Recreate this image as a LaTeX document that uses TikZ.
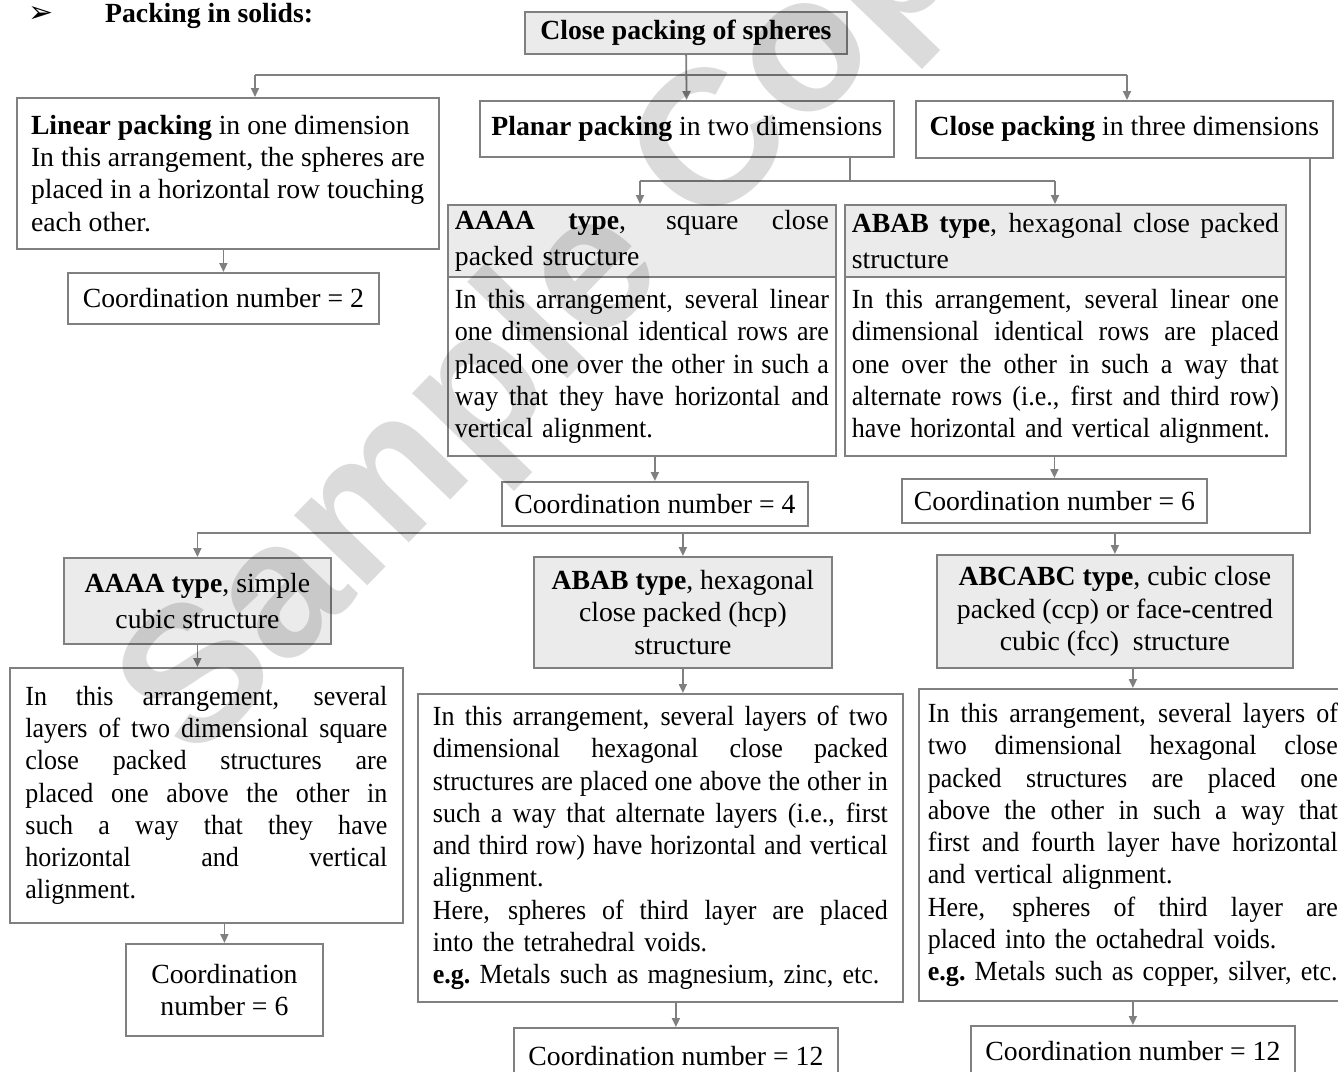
\documentclass[tikz,border=0pt]{standalone}
\usepackage{fontspec}
\setmainfont{Liberation Serif}
\newfontfamily\bodyfont{Liberation Serif}[FakeStretch=0.94]
\newfontfamily\symbolfont{DejaVu Sans}
\newfontfamily\markfont{Liberation Sans}
\usetikzlibrary{arrows.meta}

\definecolor{linegray}{RGB}{128,128,128}
\definecolor{headgray}{RGB}{235,235,235}

% one justified line of a paragraph
\newcommand{\bodyspace}{\spaceskip=0.235em plus 0.3em minus 0.13em\relax}
\newcommand{\jl}[1]{\makebox[\hsize][s]{\bodyspace#1}\\}

\tikzset{
  box/.style={draw=linegray, line width=1.8pt, inner sep=0pt, anchor=north west,
    font=\fontsize{27.7}{32.3}\selectfont},
  headbox/.style={box, fill=headgray},
  bodybox/.style={box, align=left, font=\bodyfont\fontsize{27.7}{32.3}\selectfont},
  link/.style={draw=linegray, line width=1.8pt},
  linkarrow/.style={link, -{Triangle[length=9pt,width=8pt]}}
}

\begin{document}
\begin{tikzpicture}[x=1pt,y=-1pt]
\path[use as bounding box, clip] (0,0) rectangle (1338,1071);

% Title
\node[font=\symbolfont\fontsize{30}{30}\selectfont, inner sep=0pt] (bullet) at (41,15) {➢};
\node[anchor=base west, inner sep=0pt, font=\bfseries\fontsize{27.7}{32}\selectfont] (title) at (105,22) {Packing in solids:};

% Top level
\node[headbox, minimum width=322pt, minimum height=42pt, font=\bfseries\fontsize{27.7}{32}\selectfont] (spheres) at (524,11) {Close packing of spheres};

% First row
\node[box, minimum width=422pt, minimum height=151pt, align=left] (linear) at (16,97)
  {\textbf{Linear packing} in one dimension\\
   In this arrangement, the spheres are\\
   placed in a horizontal row touching\\
   each other.};
\node[box, minimum width=414pt, minimum height=56pt] (planar) at (479,100)
  {\textbf{Planar packing} in two dimensions};
\node[box, minimum width=417pt, minimum height=57pt] (close) at (915,100)
  {\textbf{Close packing} in three dimensions};
\node[box, minimum width=311pt, minimum height=51pt] (cnlinear) at (67,272) {Coordination number = 2};

% Planar packing
\node[headbox, minimum width=388pt, minimum height=72pt, text width=374pt, align=left,
  font=\fontsize{27.7}{36}\selectfont] (sqhead) at (447,204)
  {\jl{\textbf{AAAA type}, square close}packed structure};
\node[bodybox, minimum width=388pt, minimum height=179pt, text width=374pt] (sqbody) at (447,276)
  {\jl{In this arrangement, several linear}
   \jl{one dimensional identical rows are}
   \jl{placed one over the other in such a}
   \jl{way that they have horizontal and}
   vertical alignment.};
\node[box, minimum width=306pt, minimum height=44pt] (cnsquare) at (501,481) {Coordination number = 4};

\node[headbox, minimum width=441pt, minimum height=72pt, text width=427pt, align=left,
  font=\fontsize{27.7}{36}\selectfont] (hxhead) at (844,204)
  {\jl{\textbf{ABAB type}, hexagonal close packed}structure};
\node[bodybox, minimum width=441pt, minimum height=179pt, text width=427pt] (hxbody) at (844,276)
  {\jl{In this arrangement, several linear one}
   \jl{dimensional identical rows are placed}
   \jl{one over the other in such a way that}
   \jl{alternate rows (i.e., first and third row)}
   have horizontal and vertical alignment.};
\node[box, minimum width=305pt, minimum height=44pt] (cnhex) at (901,478) {Coordination number = 6};

% Close packing in three dimensions
\node[headbox, minimum width=267pt, minimum height=86pt, align=center,
  font=\fontsize{27.7}{36}\selectfont] (schead) at (63,557)
  {\textbf{AAAA type}, simple\\cubic structure};
\node[bodybox, minimum width=393pt, minimum height=255pt, text width=362pt] (scbody) at (9,667)
  {\jl{In this arrangement, several}
   \jl{layers of two dimensional square}
   \jl{close packed structures are}
   \jl{placed one above the other in}
   \jl{such a way that they have}
   \jl{horizontal and vertical}
   alignment.};
\node[box, minimum width=197pt, minimum height=92pt, align=center] (cnsc) at (125,943)
  {Coordination\\number = 6};

\node[headbox, minimum width=298pt, minimum height=111pt, align=center] (hcphead) at (533,556)
  {\textbf{ABAB type}, hexagonal\\close packed (hcp)\\structure};
\node[bodybox, minimum width=485pt, minimum height=308pt, text width=455pt] (hcpbody) at (417,693)
  {\jl{In this arrangement, several layers of two}
   \jl{dimensional hexagonal close packed}
   \jl{structures are placed one above the other in}
   \jl{such a way that alternate layers (i.e., first}
   \jl{and third row) have horizontal and vertical}
   alignment.\\
   \jl{Here, spheres of third layer are placed}
   into the tetrahedral voids.\\
   \textbf{e.g.}\ Metals such as magnesium, zinc, etc.};
\node[box, minimum width=324pt, minimum height=56pt] (cnhcp) at (513,1027) {Coordination number = 12};

\node[headbox, minimum width=356pt, minimum height=113pt, align=center] (ccphead) at (936,554)
  {\textbf{ABCABC type}, cubic close\\packed (ccp) or face-centred\\cubic (fcc)\ \ structure};
\node[bodybox, minimum width=428pt, minimum height=312pt, text width=410pt] (ccpbody) at (918,688)
  {\jl{In this arrangement, several layers of}
   \jl{two dimensional hexagonal close}
   \jl{packed structures are placed one}
   \jl{above the other in such a way that}
   \jl{first and fourth layer have horizontal}
   and vertical alignment.\\
   \jl{Here, spheres of third layer are}
   placed into the octahedral voids.\\
   \textbf{e.g.}\ Metals such as copper, silver, etc.};
\node[box, minimum width=324pt, minimum height=50pt] (cnccp) at (970,1025) {Coordination number = 12};

% Connectors, first level
\coordinate (splitl) at (255,75);
\coordinate (splitr) at (1127,75);
\draw[linkarrow] (spheres) -- (planar);
\draw[link] (splitl) -- (splitr);
\draw[linkarrow] (splitl) -- (splitl |- linear.north);
\draw[linkarrow] (splitr) -- (splitr |- close.north);
\draw[linkarrow] (cnlinear.north |- linear.south) -- (cnlinear.north);

% Connectors, planar packing
\coordinate (bend) at (850,181);
\coordinate (splitsq) at (640,181);
\coordinate (splithx) at (1055,181);
\draw[link] (bend |- planar.south) -- (bend);
\draw[link] (splitsq) -- (splithx);
\draw[linkarrow] (splitsq) -- (splitsq |- sqhead.north);
\draw[linkarrow] (splithx) -- (splithx |- hxhead.north);
\draw[linkarrow] (cnsquare.north |- sqbody.south) -- (cnsquare.north);
\draw[linkarrow] (cnhex.north |- hxbody.south) -- (cnhex.north);

% Connectors, three dimensions
\coordinate (corner) at (1310,533);
\draw[link] (corner |- close.south) -- (corner) -- (schead.north |- corner);
\draw[linkarrow] (schead.north |- corner) -- (schead.north);
\draw[linkarrow] (hcphead.north |- corner) -- (hcphead.north);
\draw[linkarrow] (ccphead.north |- corner) -- (ccphead.north);
\draw[linkarrow] (schead.south) -- (schead.south |- scbody.north);
\draw[linkarrow] (hcphead.south) -- (hcphead.south |- hcpbody.north);
\draw[linkarrow] (ccpbody.north |- ccphead.south) -- (ccpbody.north);
\draw[linkarrow] (cnsc.north |- scbody.south) -- (cnsc.north);
\draw[linkarrow] (cnhcp.north |- hcpbody.south) -- (cnhcp.north);
\draw[linkarrow] (cnccp.north |- ccpbody.south) -- (cnccp.north);

% Watermark
\node[rotate=46, anchor=base west, inner sep=0pt, text=black, text opacity=0.14,
  font=\markfont\bfseries\fontsize{192}{192}\selectfont] (mark) at (195,765) {Sample Copy};
\end{tikzpicture}
\end{document}
